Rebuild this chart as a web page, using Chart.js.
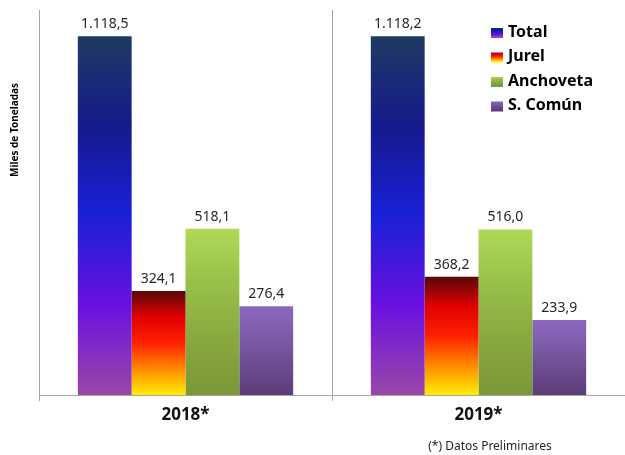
<!DOCTYPE html>
<html>
<head>
<meta charset="utf-8">
<script src="https://cdn.jsdelivr.net/npm/chart.js@4"></script>
<style>
  html, body { margin: 0; padding: 0; background: #fff; }
  #wrap { width: 625px; height: 455px; }
</style>
</head>
<body>
<div id="wrap"><canvas id="desembarque"></canvas></div>
<script>
// datos del gráfico
const years = ['2018*', '2019*'];
const seriesNames = ['Total', 'Jurel', 'Anchoveta', 'S. Común'];
const total = [1118.5, 1118.2];
const jurel = [324.1, 368.2];
const anchoveta = [518.1, 516.0];
const sComun = [276.4, 233.9];

// gradientes de cada serie (de arriba hacia abajo)
const stops = {
    'Total': ['#1f3a62', '#151a8c', '#1a20d8', '#6a10e0', '#9a48a8'],
    'Jurel': ['#5a0808', '#e00000', '#ff2000', '#ff8a00', '#ffee00'],
    'Anchoveta': ['#b0d858', '#98c048', '#88a840', '#7a9838'],
    'S. Común': ['#8c68c0', '#7c5ca8', '#6c4c90', '#5c3c78']
};

function fillFor(name) {
    return function (c) {
        const chart = c.chart;
        const cols = stops[name];
        if (!chart.chartArea || !chart.scales.y) return cols[1];
        const y = chart.scales.y;
        const v = c.raw == null ? y.max : c.raw;
        const top = y.getPixelForValue(v);
        const bot = y.getPixelForValue(0);
        const g = chart.ctx.createLinearGradient(0, top, 0, bot);
        cols.forEach((col, i) => g.addColorStop(i / (cols.length - 1), col));
        return g;
    };
}

function fmt(v) {
    const parts = v.toFixed(1).split('.');
    const ent = parts[0].replace(/\B(?=(\d{3})+(?!\d))/g, '.');
    return ent + ',' + parts[1];
}

const valueLabels = {
    id: 'valueLabels',
    afterDatasetsDraw(chart) {
        const ctx = chart.ctx;
        ctx.save();
        ctx.font = '14px "Noto Sans"';
        ctx.fillStyle = '#262626';
        ctx.textAlign = 'center';
        ctx.textBaseline = 'bottom';
        chart.data.datasets.forEach((ds, i) => {
            chart.getDatasetMeta(i).data.forEach((bar, j) => {
                ctx.fillText(fmt(ds.data[j]), bar.x, bar.y - 5);
            });
        });
        ctx.restore();
    }
};

const extras = {
    id: 'extras',
    afterDraw(chart) {
        const ctx = chart.ctx;
        ctx.save();
        // título eje Y
        ctx.translate(15, 130);
        ctx.rotate(-Math.PI / 2);
        ctx.font = 'bold 10px "Noto Sans"';
        ctx.fillStyle = '#000';
        ctx.textAlign = 'center';
        ctx.textBaseline = 'middle';
        ctx.fillText('Miles de Toneladas', 0, 0);
        ctx.restore();

        // leyenda
        ctx.save();
        ctx.font = 'bold 16px "Noto Sans"';
        ctx.textBaseline = 'middle';
        ctx.textAlign = 'left';
        seriesNames.forEach((name, i) => {
            const yc = 32 + i * 24.5;
            const cols = stops[name];
            const g = ctx.createLinearGradient(0, yc - 5, 0, yc + 5);
            cols.forEach((col, k) => g.addColorStop(k / (cols.length - 1), col));
            ctx.fillStyle = g;
            ctx.fillRect(491, yc - 4, 12, 10);
            ctx.fillStyle = '#000';
            ctx.fillText(name, 508, yc);
        });
        ctx.restore();

        // nota
        ctx.save();
        ctx.font = '12px "Noto Sans"';
        ctx.fillStyle = '#262626';
        ctx.textAlign = 'center';
        ctx.textBaseline = 'middle';
        ctx.fillText('(*) Datos Preliminares', 490, 447);
        ctx.restore();
    }
};

const ctx = document.getElementById('desembarque').getContext('2d');
new Chart(ctx, {
    type: 'bar',
    data: {
        labels: years,
        datasets: [
            { label: seriesNames[0], data: total, backgroundColor: fillFor('Total') },
            { label: seriesNames[1], data: jurel, backgroundColor: fillFor('Jurel') },
            { label: seriesNames[2], data: anchoveta, backgroundColor: fillFor('Anchoveta') },
            { label: seriesNames[3], data: sComun, backgroundColor: fillFor('S. Común') }
        ]
    },
    options: {
        responsive: true,
        maintainAspectRatio: false,
        animation: false,
        layout: { padding: { top: 10, right: 0, left: 0, bottom: 0 } },
        datasets: {
            bar: { categoryPercentage: 0.735, barPercentage: 1.0, borderWidth: 0 }
        },
        scales: {
            x: {
                grid: {
                    offset: true,
                    color: '#a6a6a6',
                    drawTicks: true,
                    tickLength: 6
                },
                border: { color: '#a6a6a6' },
                ticks: {
                    color: '#111',
                    font: { family: '"Noto Sans"', size: 17, weight: 'bold' },
                    padding: 4
                },
                afterFit(scale) { scale.height = 60; }
            },
            y: {
                min: 0,
                max: 1200,
                grid: { display: false },
                border: { color: '#a6a6a6' },
                ticks: { display: false },
                afterFit(scale) { scale.width = 39; }
            }
        },
        plugins: {
            legend: { display: false },
            tooltip: { enabled: false }
        }
    },
    plugins: [valueLabels, extras]
});
</script>
</body>
</html>
